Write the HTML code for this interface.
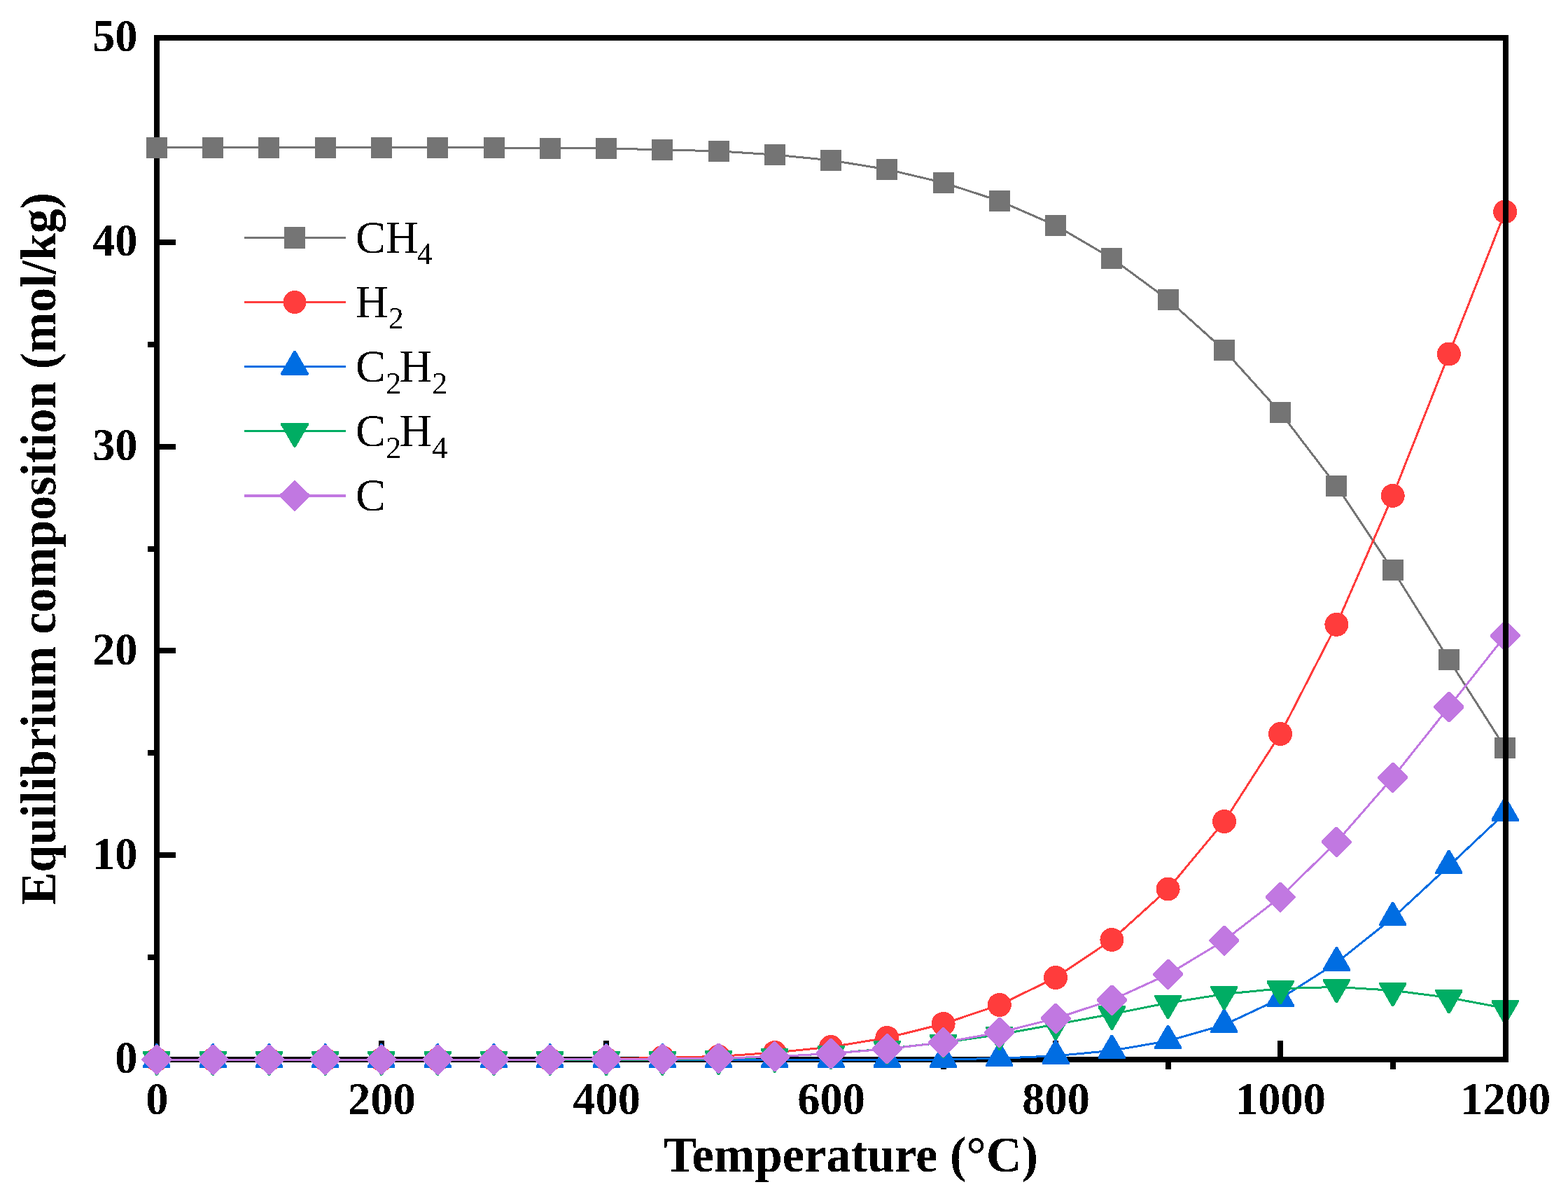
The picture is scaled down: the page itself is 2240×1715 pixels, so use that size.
<!DOCTYPE html><html><head><meta charset="utf-8"><style>html,body{margin:0;padding:0;background:#fff}svg{display:block}text{font-family:"Liberation Serif","Times New Roman",serif}</style></head><body>
<svg width="2240" height="1715" viewBox="0 0 2240 1715">
<defs><filter id="bin" x="0" y="0" width="2240" height="1715" filterUnits="userSpaceOnUse"><feComponentTransfer><feFuncA type="discrete" tableValues="0 1"/></feComponentTransfer></filter></defs>
<rect width="2240" height="1715" fill="#fff"/>
<g shape-rendering="crispEdges">
<g fill="#000">
<rect x="220" y="50" width="8" height="1467"/>
<rect x="220" y="1509" width="1935" height="8"/>
<rect x="228" y="1509" width="23" height="8"/>
<rect x="228" y="1217" width="23" height="8"/>
<rect x="228" y="925" width="23" height="8"/>
<rect x="228" y="634" width="23" height="8"/>
<rect x="228" y="342" width="23" height="8"/>
<rect x="228" y="50" width="23" height="8"/>
<rect x="211" y="1363" width="9" height="8"/>
<rect x="211" y="1071" width="9" height="8"/>
<rect x="211" y="780" width="9" height="8"/>
<rect x="211" y="488" width="9" height="8"/>
<rect x="211" y="196" width="9" height="8"/>
<rect x="541" y="1486" width="8" height="23"/>
<rect x="862" y="1486" width="8" height="23"/>
<rect x="1183" y="1486" width="8" height="23"/>
<rect x="1504" y="1486" width="8" height="23"/>
<rect x="1825" y="1486" width="8" height="23"/>
<rect x="380" y="1517" width="8" height="10"/>
<rect x="701" y="1517" width="8" height="10"/>
<rect x="1023" y="1517" width="8" height="10"/>
<rect x="1344" y="1517" width="8" height="10"/>
<rect x="1665" y="1517" width="8" height="10"/>
<rect x="1986" y="1517" width="8" height="10"/>
</g>
<polyline points="223.9,210.8 304.2,210.8 384.4,210.8 464.7,210.8 544.9,210.8 625.2,210.8 705.5,210.8 785.7,211.9 866.0,211.9 946.3,213.9 1026.5,215.8 1106.8,221.0 1187.0,228.9 1267.3,241.9 1347.6,260.8 1427.8,286.9 1508.1,321.9 1588.4,368.9 1668.6,427.9 1748.9,500.0 1829.1,588.9 1909.4,694.1 1989.7,814.0 2069.9,942.0 2150.2,1068.0" fill="none" stroke="#747474" stroke-width="3.0" stroke-linejoin="round"/>
<g fill="#747474"><rect x="208.9" y="195.8" width="30" height="30"/><rect x="289.2" y="195.8" width="30" height="30"/><rect x="369.4" y="195.8" width="30" height="30"/><rect x="449.7" y="195.8" width="30" height="30"/><rect x="529.9" y="195.8" width="30" height="30"/><rect x="610.2" y="195.8" width="30" height="30"/><rect x="690.5" y="195.8" width="30" height="30"/><rect x="770.7" y="196.9" width="30" height="30"/><rect x="851.0" y="196.9" width="30" height="30"/><rect x="931.3" y="198.9" width="30" height="30"/><rect x="1011.5" y="200.8" width="30" height="30"/><rect x="1091.8" y="206.0" width="30" height="30"/><rect x="1172.0" y="213.9" width="30" height="30"/><rect x="1252.3" y="226.9" width="30" height="30"/><rect x="1332.6" y="245.8" width="30" height="30"/><rect x="1412.8" y="271.9" width="30" height="30"/><rect x="1493.1" y="306.9" width="30" height="30"/><rect x="1573.4" y="353.9" width="30" height="30"/><rect x="1653.6" y="412.9" width="30" height="30"/><rect x="1733.9" y="485.0" width="30" height="30"/><rect x="1814.1" y="573.9" width="30" height="30"/><rect x="1894.4" y="679.1" width="30" height="30"/><rect x="1974.7" y="799.0" width="30" height="30"/><rect x="2054.9" y="927.0" width="30" height="30"/><rect x="2135.2" y="1053.0" width="30" height="30"/></g>
<polyline points="223.9,1513.0 304.2,1513.0 384.4,1513.0 464.7,1513.0 544.9,1513.0 625.2,1513.0 705.5,1513.0 785.7,1513.0 866.0,1512.4 946.3,1510.0 1026.5,1508.6 1106.8,1503.0 1187.0,1495.0 1267.3,1482.0 1347.6,1462.0 1427.8,1435.0 1508.1,1396.0 1588.4,1342.0 1668.6,1269.5 1748.9,1173.0 1829.1,1048.0 1909.4,891.8 1989.7,707.9 2069.9,505.5 2150.2,302.3" fill="none" stroke="#FF3C3C" stroke-width="3.0" stroke-linejoin="round"/>
<g fill="#FF3C3C"><circle cx="223.9" cy="1513.0" r="17"/><circle cx="304.2" cy="1513.0" r="17"/><circle cx="384.4" cy="1513.0" r="17"/><circle cx="464.7" cy="1513.0" r="17"/><circle cx="544.9" cy="1513.0" r="17"/><circle cx="625.2" cy="1513.0" r="17"/><circle cx="705.5" cy="1513.0" r="17"/><circle cx="785.7" cy="1513.0" r="17"/><circle cx="866.0" cy="1512.4" r="17"/><circle cx="946.3" cy="1510.0" r="17"/><circle cx="1026.5" cy="1508.6" r="17"/><circle cx="1106.8" cy="1503.0" r="17"/><circle cx="1187.0" cy="1495.0" r="17"/><circle cx="1267.3" cy="1482.0" r="17"/><circle cx="1347.6" cy="1462.0" r="17"/><circle cx="1427.8" cy="1435.0" r="17"/><circle cx="1508.1" cy="1396.0" r="17"/><circle cx="1588.4" cy="1342.0" r="17"/><circle cx="1668.6" cy="1269.5" r="17"/><circle cx="1748.9" cy="1173.0" r="17"/><circle cx="1829.1" cy="1048.0" r="17"/><circle cx="1909.4" cy="891.8" r="17"/><circle cx="1989.7" cy="707.9" r="17"/><circle cx="2069.9" cy="505.5" r="17"/><circle cx="2150.2" cy="302.3" r="17"/></g>
<polyline points="223.9,1513.0 304.2,1513.0 384.4,1513.0 464.7,1513.0 544.9,1513.0 625.2,1513.0 705.5,1513.0 785.7,1513.0 866.0,1513.0 946.3,1513.0 1026.5,1513.0 1106.8,1513.0 1187.0,1513.0 1267.3,1513.0 1347.6,1513.0 1427.8,1511.3 1508.1,1507.8 1588.4,1500.3 1668.6,1486.4 1748.9,1463.5 1829.1,1425.8 1909.4,1374.8 1989.7,1310.7 2069.9,1236.5 2150.2,1161.0" fill="none" stroke="#006DE2" stroke-width="3.0" stroke-linejoin="round"/>
<g fill="#006DE2"><polygon points="222.4,1490.4 225.4,1490.4 243.4,1521.6 243.4,1524.7 204.4,1524.7 204.4,1521.6"/><polygon points="302.7,1490.4 305.7,1490.4 323.7,1521.6 323.7,1524.7 284.7,1524.7 284.7,1521.6"/><polygon points="382.9,1490.4 385.9,1490.4 403.9,1521.6 403.9,1524.7 364.9,1524.7 364.9,1521.6"/><polygon points="463.2,1490.4 466.2,1490.4 484.2,1521.6 484.2,1524.7 445.2,1524.7 445.2,1521.6"/><polygon points="543.4,1490.4 546.4,1490.4 564.4,1521.6 564.4,1524.7 525.4,1524.7 525.4,1521.6"/><polygon points="623.7,1490.4 626.7,1490.4 644.7,1521.6 644.7,1524.7 605.7,1524.7 605.7,1521.6"/><polygon points="704.0,1490.4 707.0,1490.4 725.0,1521.6 725.0,1524.7 686.0,1524.7 686.0,1521.6"/><polygon points="784.2,1490.4 787.2,1490.4 805.2,1521.6 805.2,1524.7 766.2,1524.7 766.2,1521.6"/><polygon points="864.5,1490.4 867.5,1490.4 885.5,1521.6 885.5,1524.7 846.5,1524.7 846.5,1521.6"/><polygon points="944.8,1490.4 947.8,1490.4 965.8,1521.6 965.8,1524.7 926.8,1524.7 926.8,1521.6"/><polygon points="1025.0,1490.4 1028.0,1490.4 1046.0,1521.6 1046.0,1524.7 1007.0,1524.7 1007.0,1521.6"/><polygon points="1105.3,1490.4 1108.3,1490.4 1126.3,1521.6 1126.3,1524.7 1087.3,1524.7 1087.3,1521.6"/><polygon points="1185.5,1490.4 1188.5,1490.4 1206.5,1521.6 1206.5,1524.7 1167.5,1524.7 1167.5,1521.6"/><polygon points="1265.8,1490.4 1268.8,1490.4 1286.8,1521.6 1286.8,1524.7 1247.8,1524.7 1247.8,1521.6"/><polygon points="1346.1,1490.4 1349.1,1490.4 1367.1,1521.6 1367.1,1524.7 1328.1,1524.7 1328.1,1521.6"/><polygon points="1426.3,1488.7 1429.3,1488.7 1447.3,1519.9 1447.3,1523.0 1408.3,1523.0 1408.3,1519.9"/><polygon points="1506.6,1485.2 1509.6,1485.2 1527.6,1516.4 1527.6,1519.5 1488.6,1519.5 1488.6,1516.4"/><polygon points="1586.9,1477.7 1589.9,1477.7 1607.9,1508.9 1607.9,1512.0 1568.9,1512.0 1568.9,1508.9"/><polygon points="1667.1,1463.8 1670.1,1463.8 1688.1,1495.0 1688.1,1498.1 1649.1,1498.1 1649.1,1495.0"/><polygon points="1747.4,1440.9 1750.4,1440.9 1768.4,1472.1 1768.4,1475.2 1729.4,1475.2 1729.4,1472.1"/><polygon points="1827.6,1403.2 1830.6,1403.2 1848.6,1434.4 1848.6,1437.5 1809.6,1437.5 1809.6,1434.4"/><polygon points="1907.9,1352.2 1910.9,1352.2 1928.9,1383.4 1928.9,1386.5 1889.9,1386.5 1889.9,1383.4"/><polygon points="1988.2,1288.1 1991.2,1288.1 2009.2,1319.3 2009.2,1322.4 1970.2,1322.4 1970.2,1319.3"/><polygon points="2068.4,1213.9 2071.4,1213.9 2089.4,1245.1 2089.4,1248.2 2050.4,1248.2 2050.4,1245.1"/><polygon points="2148.7,1138.4 2151.7,1138.4 2169.7,1169.6 2169.7,1172.7 2130.7,1172.7 2130.7,1169.6"/></g>
<polyline points="223.9,1513.0 304.2,1513.0 384.4,1513.0 464.7,1513.0 544.9,1513.0 625.2,1513.0 705.5,1513.0 785.7,1513.0 866.0,1513.0 946.3,1513.0 1026.5,1512.0 1106.8,1509.0 1187.0,1504.4 1267.3,1497.5 1347.6,1488.7 1427.8,1477.3 1508.1,1462.8 1588.4,1448.1 1668.6,1432.2 1748.9,1419.5 1829.1,1411.7 1909.4,1409.4 1989.7,1414.3 2069.9,1424.6 2150.2,1439.7" fill="none" stroke="#00AD64" stroke-width="3.0" stroke-linejoin="round"/>
<g fill="#00AD64"><polygon points="222.4,1535.6 225.4,1535.6 243.4,1504.4 243.4,1501.3 204.4,1501.3 204.4,1504.4"/><polygon points="302.7,1535.6 305.7,1535.6 323.7,1504.4 323.7,1501.3 284.7,1501.3 284.7,1504.4"/><polygon points="382.9,1535.6 385.9,1535.6 403.9,1504.4 403.9,1501.3 364.9,1501.3 364.9,1504.4"/><polygon points="463.2,1535.6 466.2,1535.6 484.2,1504.4 484.2,1501.3 445.2,1501.3 445.2,1504.4"/><polygon points="543.4,1535.6 546.4,1535.6 564.4,1504.4 564.4,1501.3 525.4,1501.3 525.4,1504.4"/><polygon points="623.7,1535.6 626.7,1535.6 644.7,1504.4 644.7,1501.3 605.7,1501.3 605.7,1504.4"/><polygon points="704.0,1535.6 707.0,1535.6 725.0,1504.4 725.0,1501.3 686.0,1501.3 686.0,1504.4"/><polygon points="784.2,1535.6 787.2,1535.6 805.2,1504.4 805.2,1501.3 766.2,1501.3 766.2,1504.4"/><polygon points="864.5,1535.6 867.5,1535.6 885.5,1504.4 885.5,1501.3 846.5,1501.3 846.5,1504.4"/><polygon points="944.8,1535.6 947.8,1535.6 965.8,1504.4 965.8,1501.3 926.8,1501.3 926.8,1504.4"/><polygon points="1025.0,1534.6 1028.0,1534.6 1046.0,1503.4 1046.0,1500.3 1007.0,1500.3 1007.0,1503.4"/><polygon points="1105.3,1531.6 1108.3,1531.6 1126.3,1500.4 1126.3,1497.3 1087.3,1497.3 1087.3,1500.4"/><polygon points="1185.5,1527.0 1188.5,1527.0 1206.5,1495.8 1206.5,1492.7 1167.5,1492.7 1167.5,1495.8"/><polygon points="1265.8,1520.1 1268.8,1520.1 1286.8,1488.9 1286.8,1485.8 1247.8,1485.8 1247.8,1488.9"/><polygon points="1346.1,1511.3 1349.1,1511.3 1367.1,1480.1 1367.1,1477.0 1328.1,1477.0 1328.1,1480.1"/><polygon points="1426.3,1499.9 1429.3,1499.9 1447.3,1468.7 1447.3,1465.6 1408.3,1465.6 1408.3,1468.7"/><polygon points="1506.6,1485.4 1509.6,1485.4 1527.6,1454.2 1527.6,1451.1 1488.6,1451.1 1488.6,1454.2"/><polygon points="1586.9,1470.7 1589.9,1470.7 1607.9,1439.5 1607.9,1436.4 1568.9,1436.4 1568.9,1439.5"/><polygon points="1667.1,1454.8 1670.1,1454.8 1688.1,1423.6 1688.1,1420.5 1649.1,1420.5 1649.1,1423.6"/><polygon points="1747.4,1442.1 1750.4,1442.1 1768.4,1410.9 1768.4,1407.8 1729.4,1407.8 1729.4,1410.9"/><polygon points="1827.6,1434.3 1830.6,1434.3 1848.6,1403.1 1848.6,1400.0 1809.6,1400.0 1809.6,1403.1"/><polygon points="1907.9,1432.0 1910.9,1432.0 1928.9,1400.8 1928.9,1397.7 1889.9,1397.7 1889.9,1400.8"/><polygon points="1988.2,1436.9 1991.2,1436.9 2009.2,1405.7 2009.2,1402.6 1970.2,1402.6 1970.2,1405.7"/><polygon points="2068.4,1447.2 2071.4,1447.2 2089.4,1416.0 2089.4,1412.9 2050.4,1412.9 2050.4,1416.0"/><polygon points="2148.7,1462.3 2151.7,1462.3 2169.7,1431.1 2169.7,1428.0 2130.7,1428.0 2130.7,1431.1"/></g>
<polyline points="223.9,1513.0 304.2,1513.0 384.4,1513.0 464.7,1513.0 544.9,1513.0 625.2,1513.0 705.5,1513.0 785.7,1513.0 866.0,1512.3 946.3,1512.0 1026.5,1511.0 1106.8,1508.9 1187.0,1504.4 1267.3,1497.9 1347.6,1488.5 1427.8,1474.4 1508.1,1454.3 1588.4,1428.0 1668.6,1391.4 1748.9,1343.0 1829.1,1281.0 1909.4,1202.4 1989.7,1110.3 2069.9,1009.5 2150.2,907.9" fill="none" stroke="#C178E1" stroke-width="3.0" stroke-linejoin="round"/>
<g fill="#C178E1"><polygon points="222.6,1491.5 225.2,1491.5 245.4,1511.7 245.4,1514.3 225.2,1534.5 222.6,1534.5 202.4,1514.3 202.4,1511.7"/><polygon points="302.9,1491.5 305.5,1491.5 325.7,1511.7 325.7,1514.3 305.5,1534.5 302.9,1534.5 282.7,1514.3 282.7,1511.7"/><polygon points="383.1,1491.5 385.7,1491.5 405.9,1511.7 405.9,1514.3 385.7,1534.5 383.1,1534.5 362.9,1514.3 362.9,1511.7"/><polygon points="463.4,1491.5 466.0,1491.5 486.2,1511.7 486.2,1514.3 466.0,1534.5 463.4,1534.5 443.2,1514.3 443.2,1511.7"/><polygon points="543.6,1491.5 546.2,1491.5 566.4,1511.7 566.4,1514.3 546.2,1534.5 543.6,1534.5 523.4,1514.3 523.4,1511.7"/><polygon points="623.9,1491.5 626.5,1491.5 646.7,1511.7 646.7,1514.3 626.5,1534.5 623.9,1534.5 603.7,1514.3 603.7,1511.7"/><polygon points="704.2,1491.5 706.8,1491.5 727.0,1511.7 727.0,1514.3 706.8,1534.5 704.2,1534.5 684.0,1514.3 684.0,1511.7"/><polygon points="784.4,1491.5 787.0,1491.5 807.2,1511.7 807.2,1514.3 787.0,1534.5 784.4,1534.5 764.2,1514.3 764.2,1511.7"/><polygon points="864.7,1490.8 867.3,1490.8 887.5,1511.0 887.5,1513.6 867.3,1533.8 864.7,1533.8 844.5,1513.6 844.5,1511.0"/><polygon points="945.0,1490.5 947.6,1490.5 967.8,1510.7 967.8,1513.3 947.6,1533.5 945.0,1533.5 924.8,1513.3 924.8,1510.7"/><polygon points="1025.2,1489.5 1027.8,1489.5 1048.0,1509.7 1048.0,1512.3 1027.8,1532.5 1025.2,1532.5 1005.0,1512.3 1005.0,1509.7"/><polygon points="1105.5,1487.4 1108.1,1487.4 1128.3,1507.6 1128.3,1510.2 1108.1,1530.4 1105.5,1530.4 1085.3,1510.2 1085.3,1507.6"/><polygon points="1185.7,1482.9 1188.3,1482.9 1208.5,1503.1 1208.5,1505.7 1188.3,1525.9 1185.7,1525.9 1165.5,1505.7 1165.5,1503.1"/><polygon points="1266.0,1476.4 1268.6,1476.4 1288.8,1496.6 1288.8,1499.2 1268.6,1519.4 1266.0,1519.4 1245.8,1499.2 1245.8,1496.6"/><polygon points="1346.3,1467.0 1348.9,1467.0 1369.1,1487.2 1369.1,1489.8 1348.9,1510.0 1346.3,1510.0 1326.1,1489.8 1326.1,1487.2"/><polygon points="1426.5,1452.9 1429.1,1452.9 1449.3,1473.1 1449.3,1475.7 1429.1,1495.9 1426.5,1495.9 1406.3,1475.7 1406.3,1473.1"/><polygon points="1506.8,1432.8 1509.4,1432.8 1529.6,1453.0 1529.6,1455.6 1509.4,1475.8 1506.8,1475.8 1486.6,1455.6 1486.6,1453.0"/><polygon points="1587.1,1406.5 1589.7,1406.5 1609.9,1426.7 1609.9,1429.3 1589.7,1449.5 1587.1,1449.5 1566.9,1429.3 1566.9,1426.7"/><polygon points="1667.3,1369.9 1669.9,1369.9 1690.1,1390.1 1690.1,1392.7 1669.9,1412.9 1667.3,1412.9 1647.1,1392.7 1647.1,1390.1"/><polygon points="1747.6,1321.5 1750.2,1321.5 1770.4,1341.7 1770.4,1344.3 1750.2,1364.5 1747.6,1364.5 1727.4,1344.3 1727.4,1341.7"/><polygon points="1827.8,1259.5 1830.4,1259.5 1850.6,1279.7 1850.6,1282.3 1830.4,1302.5 1827.8,1302.5 1807.6,1282.3 1807.6,1279.7"/><polygon points="1908.1,1180.9 1910.7,1180.9 1930.9,1201.1 1930.9,1203.7 1910.7,1223.9 1908.1,1223.9 1887.9,1203.7 1887.9,1201.1"/><polygon points="1988.4,1088.8 1991.0,1088.8 2011.2,1109.0 2011.2,1111.6 1991.0,1131.8 1988.4,1131.8 1968.2,1111.6 1968.2,1109.0"/><polygon points="2068.6,988.0 2071.2,988.0 2091.4,1008.2 2091.4,1010.8 2071.2,1031.0 2068.6,1031.0 2048.4,1010.8 2048.4,1008.2"/><polygon points="2148.9,886.4 2151.5,886.4 2171.7,906.6 2171.7,909.2 2151.5,929.4 2148.9,929.4 2128.7,909.2 2128.7,906.6"/></g>
<g fill="#000"><rect x="220" y="50" width="1935" height="8"/><rect x="2147" y="50" width="8" height="1467"/></g>
</g>
<g filter="url(#bin)">
<g font-size="64.5" font-weight="bold" fill="#000">
<text x="224.4" y="1591" text-anchor="middle">0</text>
<text x="545.4" y="1591" text-anchor="middle">200</text>
<text x="866.5" y="1591" text-anchor="middle">400</text>
<text x="1187.5" y="1591" text-anchor="middle">600</text>
<text x="1508.6" y="1591" text-anchor="middle">800</text>
<text x="1829.6" y="1591" text-anchor="middle">1000</text>
<text x="2150.7" y="1591" text-anchor="middle">1200</text>
<text x="196.5" y="1532.3" text-anchor="end">0</text>
<text x="196.5" y="1240.5" text-anchor="end">10</text>
<text x="196.5" y="948.7" text-anchor="end">20</text>
<text x="196.5" y="656.9" text-anchor="end">30</text>
<text x="196.5" y="365.1" text-anchor="end">40</text>
<text x="196.5" y="73.3" text-anchor="end">50</text>
</g>
<text x="948" y="1673.4" font-size="72" font-weight="bold" textLength="535" lengthAdjust="spacingAndGlyphs">Temperature (°C)</text>
<text transform="translate(79.1,1292) rotate(-90)" font-size="72" font-weight="bold" textLength="1017" lengthAdjust="spacingAndGlyphs">Equilibrium composition (mol/kg)</text>
<line x1="349" y1="339.5" x2="494" y2="339.5" stroke="#747474" stroke-width="3.0"/>
<g fill="#747474"><rect x="406.0" y="324.5" width="30" height="30"/></g>
<line x1="349" y1="431.6" x2="494" y2="431.6" stroke="#FF3C3C" stroke-width="3.0"/>
<g fill="#FF3C3C"><circle cx="421.0" cy="431.6" r="16.5"/></g>
<line x1="349" y1="523.7" x2="494" y2="523.7" stroke="#006DE2" stroke-width="3.0"/>
<g fill="#006DE2"><polygon points="419.5,501.1 422.5,501.1 440.5,532.3 440.5,535.4 401.5,535.4 401.5,532.3"/></g>
<line x1="349" y1="615.8" x2="494" y2="615.8" stroke="#00AD64" stroke-width="3.0"/>
<g fill="#00AD64"><polygon points="419.5,638.4 422.5,638.4 440.5,607.2 440.5,604.1 401.5,604.1 401.5,607.2"/></g>
<line x1="349" y1="707.9" x2="494" y2="707.9" stroke="#C178E1" stroke-width="3.0"/>
<g fill="#C178E1"><polygon points="419.7,686.4 422.3,686.4 442.5,706.6 442.5,709.2 422.3,729.4 419.7,729.4 399.5,709.2 399.5,706.6"/></g>
<text x="508.1" y="360.9" font-size="64.5" fill="#000">CH<tspan font-size="44" dy="16.5" dx="-2">4</tspan></text>
<text x="508.1" y="452.9" font-size="64.5" fill="#000">H<tspan font-size="44" dy="16.5" dx="0">2</tspan></text>
<text x="508.1" y="545.0" font-size="64.5" fill="#000">C<tspan font-size="44" dy="16.5" dx="0">2</tspan><tspan font-size="64.5" dy="-16.5" dx="-2.6">H</tspan><tspan font-size="44" dy="16.5" dx="0">2</tspan></text>
<text x="508.1" y="637.0" font-size="64.5" fill="#000">C<tspan font-size="44" dy="16.5" dx="0">2</tspan><tspan font-size="64.5" dy="-16.5" dx="-2.6">H</tspan><tspan font-size="44" dy="16.5" dx="0">4</tspan></text>
<text x="508.1" y="729.0" font-size="64.5" fill="#000">C</text>
</g>
</svg></body></html>
